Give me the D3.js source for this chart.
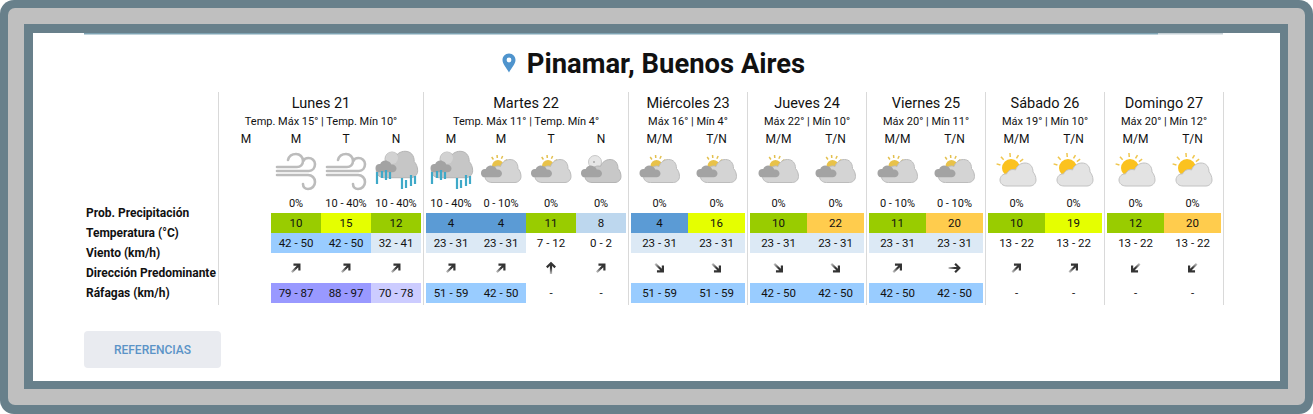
<!DOCTYPE html>
<html>
<head>
<meta charset="utf-8">
<title>Pinamar, Buenos Aires</title>
<script src="https://cdn.jsdelivr.net/npm/d3@7"></script>
<style>
  html, body { margin: 0; padding: 0; background: #fff; overflow: hidden; }
  svg { display: block; }
  text { font-family: Roboto, sans-serif; fill: #111; }
</style>
</head>
<body>
<div id="chart"></div>
<script>
// values, one list per day
var dayNames = ["Lunes 21", "Martes 22", "Miércoles 23", "Jueves 24", "Viernes 25", "Sábado 26", "Domingo 27"];
var daySubtitles = [
  "Temp. Máx 15° | Temp. Mín 10°", "Temp. Máx 11° | Temp. Mín 4°", "Máx 16° | Mín 4°",
  "Máx 22° | Mín 10°", "Máx 20° | Mín 11°", "Máx 19° | Mín 10°", "Máx 20° | Mín 12°"
];
var periods = [
  ["M", "M", "T", "N"], ["M", "M", "T", "N"], ["M/M", "T/N"],
  ["M/M", "T/N"], ["M/M", "T/N"], ["M/M", "T/N"], ["M/M", "T/N"]
];
var icons = [
  [null, "wind", "wind", "rain"], ["rain", "sunDim", "sunDim", "moonDim"], ["sunDim", "sunDim"],
  ["sunDim", "sunDim"], ["sunDim", "sunDim"], ["sunny", "sunny"], ["sunny", "sunny"]
];
var precip = [
  [null, "0%", "10 - 40%", "10 - 40%"], ["10 - 40%", "0 - 10%", "0%", "0%"], ["0%", "0%"],
  ["0%", "0%"], ["0 - 10%", "0 - 10%"], ["0%", "0%"], ["0%", "0%"]
];
var temps = [[null, 10, 15, 12], [4, 4, 11, 8], [4, 16], [10, 22], [11, 20], [10, 19], [12, 20]];
var winds = [
  [null, "42 - 50", "42 - 50", "32 - 41"], ["23 - 31", "23 - 31", "7 - 12", "0 - 2"], ["23 - 31", "23 - 31"],
  ["23 - 31", "23 - 31"], ["23 - 31", "23 - 31"], ["13 - 22", "13 - 22"], ["13 - 22", "13 - 22"]
];
var directions = [
  [null, "NE", "NE", "NE"], ["NE", "NE", "N", "NE"], ["SE", "SE"],
  ["SE", "SE"], ["NE", "E"], ["NE", "NE"], ["SW", "SW"]
];
var gusts = [
  [null, "79 - 87", "88 - 97", "70 - 78"], ["51 - 59", "42 - 50", "-", "-"], ["51 - 59", "51 - 59"],
  ["42 - 50", "42 - 50"], ["42 - 50", "42 - 50"], ["-", "-"], ["-", "-"]
];
var rowLabels = ["Prob. Precipitación", "Temperatura (°C)", "Viento (km/h)", "Dirección Predominante", "Ráfagas (km/h)"];

// layout
var svgWidth = 1313, svgHeight = 414;
var dayEdges = [218.5, 423.5, 628.5, 747.5, 866.5, 985.5, 1104.5, 1223.5];
var teal = "#68808b", frameGray = "#bfbfbf";

var svg = d3.select("#chart").append("svg")
  .attr("width", svgWidth)
  .attr("height", svgHeight);

// fade for the tail of the direction arrows
var grad = svg.append("defs").append("linearGradient")
  .attr("id", "arrowFade")
  .attr("gradientUnits", "userSpaceOnUse")
  .attr("x1", 0).attr("x2", 0).attr("y1", -5).attr("y2", 6);
grad.append("stop").attr("offset", "45%").attr("stop-color", "#333");
grad.append("stop").attr("offset", "100%").attr("stop-color", "#c4c4c4");

// frame around the page
svg.append("rect").attr("width", svgWidth).attr("height", svgHeight).attr("rx", 14).attr("fill", teal);
svg.append("rect").attr("x", 8).attr("y", 8).attr("width", 1297).attr("height", 397).attr("rx", 7).attr("fill", frameGray);
svg.append("rect").attr("x", 24).attr("y", 24).attr("width", 1264).attr("height", 365).attr("fill", teal);
svg.append("rect").attr("x", 33).attr("y", 33).attr("width", 1247).attr("height", 348).attr("fill", "#fff");

// leftover edge of the box above
svg.append("line").attr("x1", 84).attr("x2", 1158).attr("y1", 33.75).attr("y2", 33.75).attr("stroke", "#7ea3b3").attr("stroke-width", 1.5);
svg.append("line").attr("x1", 1158).attr("x2", 1223).attr("y1", 33.75).attr("y2", 33.75).attr("stroke", "#c4cfd5").attr("stroke-width", 1.5);

// title
svg.append("text")
  .attr("x", 666).attr("y", 73)
  .attr("text-anchor", "middle")
  .attr("font-size", 27.4).attr("font-weight", 700)
  .text("Pinamar, Buenos Aires");
svg.append("path")
  .attr("transform", "translate(509,63)")
  .attr("fill-rule", "evenodd")
  .attr("fill", "#4f94cd")
  .attr("d", "M0,-9.5C-3.9,-9.5 -6.5,-6.5 -6.5,-3C-6.5,1 -2.5,5 0,9.5C2.5,5 6.5,1 6.5,-3C6.5,-6.5 3.9,-9.5 0,-9.5ZM0,-5.4A2.4,2.4 0 1 1 0,-0.6A2.4,2.4 0 1 1 0,-5.4Z");

// scales
var rowY = d3.scaleOrdinal()
  .domain(["precip", "temp", "wind", "dir", "gust"])
  .range([193, 213, 233, 253, 283]);
var rowH = d3.scaleOrdinal()
  .domain(["precip", "temp", "wind", "dir", "gust"])
  .range([20, 20, 20, 30, 20]);
var tempColor = d3.scaleThreshold()
  .domain([5, 10, 15, 20])
  .range(["#5b9bd5", "#bdd7ee", "#99cc00", "#e5ff00", "#ffcc4d"]);
var speedColor = d3.scaleThreshold()
  .domain([23, 42, 70, 79])
  .range(["#ffffff", "#dce9f5", "#99ccff", "#ccccff", "#9999ff"]);
var dirAngle = d3.scaleOrdinal()
  .domain(["N", "NE", "E", "SE", "S", "SW", "W", "NW"])
  .range(d3.range(0, 360, 45));

// row labels on the left
var labelY = d3.scalePoint().domain(rowLabels).range([217, 297]);
svg.append("g").selectAll("text")
  .data(rowLabels)
  .enter()
  .append("text")
  .attr("x", 86)
  .attr("y", function(d) { return labelY(d); })
  .attr("font-size", 12)
  .attr("font-weight", 700)
  .text(function(d) { return d; });

// vertical separators
svg.append("g").selectAll("line")
  .data(dayEdges)
  .enter()
  .append("line")
  .attr("x1", function(d) { return d; })
  .attr("x2", function(d) { return d; })
  .attr("y1", 92).attr("y2", 305)
  .attr("stroke", "#d9d9d9");

// weather icons, drawn around the middle of the column
function cloud(g, x, y, s, fill, stroke) {
  g.append("path")
    .attr("transform", "translate(" + x + "," + y + ") scale(" + s + ")")
    .attr("fill", fill)
    .attr("stroke", stroke)
    .attr("stroke-width", 1 / s)
    .attr("d", "M-11,11.5C-15,11.5 -18,9 -18,5.5C-18,2 -15,-1 -11.5,-0.5C-10,-4 -6,-6 -2.5,-4.5C-1,-9 3,-11.5 7,-11.5C12,-11.5 15,-8 15,-2.5C16.5,-1 18,2 18,5.5C18,9 15,11.5 12,11.5Z");
}
function smallCloud(g, x, y, w) {
  var s = w / 22;
  g.append("path")
    .attr("transform", "translate(" + x + "," + y + ") scale(" + s + ")")
    .attr("fill", "#a3a3a3")
    .attr("d", "M-7,6.5C-10,6.5 -11,4 -11,2C-11,-1 -8.5,-2.5 -6,-2C-5,-5.5 -1,-6.5 2,-5C4,-4.5 5,-3 5.5,-1.5C8.5,-2 11,0 11,2.5C11,5 9,6.5 7,6.5Z");
}
function sun(g, x, y, r, fill, rayColor, rayLen, rayAngles) {
  rayAngles.forEach(function(a) {
    var t = a * Math.PI / 180;
    g.append("line")
      .attr("x1", x + Math.cos(t) * (r + 2)).attr("y1", y + Math.sin(t) * (r + 2))
      .attr("x2", x + Math.cos(t) * (r + 2 + rayLen)).attr("y2", y + Math.sin(t) * (r + 2 + rayLen))
      .attr("stroke", rayColor).attr("stroke-width", 1.5);
  });
  g.append("circle").attr("cx", x).attr("cy", y).attr("r", r).attr("fill", fill);
}
var iconDraw = {
  wind: function(g) {
    g.append("path")
      .attr("fill", "none").attr("stroke", "#bcbcbc").attr("stroke-width", 2.6).attr("stroke-linecap", "round")
      .attr("d", "M-19,-4H1C4.5,-4 7,-6.5 7,-10C7,-14 4,-17 0,-17C-4,-17 -7,-15 -8,-11"
        + "M-19,0H13C16.5,0 19,-3 19,-7C19,-10.5 16,-13 12.5,-13C10,-13 8,-12 7.5,-10"
        + "M-19,4H12C16,4 19,7 19,11C19,15 16,18 12,18C9,18 7,16 7,13");
  },
  rain: function(g) {
    g.append("circle").attr("cx", -4).attr("cy", -12).attr("r", 7).attr("fill", "#d6d6d6").attr("stroke", "#bbb");
    cloud(g, 1, -6.5, 1.15, "#c6c6c6", "#b4b4b4");
    g.append("circle").attr("cx", -4).attr("cy", -13).attr("r", 6).attr("fill", "#d2d2d2");
    smallCloud(g, -10, -5, 21);
    [[-19, 1, 12], [-14, 0, 7], [-10, -1, 10], [-6, 1, 7], [6, 7, 11], [10, 9, 8], [15, 4, 11], [19, 5, 8]]
      .forEach(function(b) {
        g.append("rect").attr("x", b[0] - 1.1).attr("y", b[1]).attr("width", 2.2).attr("height", b[2]).attr("fill", "#3fa9c8");
      });
  },
  sunDim: function(g) {
    sun(g, -3, -5, 6, "#e8c24a", "#e3c04e", 3, [-125, -95, -65, -35]);
    cloud(g, 2, 0, 1, "#d4d4d4", "#bcbcbc");
    smallCloud(g, -9.5, 0, 21);
  },
  moonDim: function(g) {
    g.append("circle").attr("cx", -6).attr("cy", -9).attr("r", 6.5).attr("fill", "#e6e6e6").attr("stroke", "#c8c8c8");
    g.append("circle").attr("cx", -7).attr("cy", -9).attr("r", 1).attr("fill", "#aaa");
    cloud(g, 2, 0, 1, "#c8c8c8", "#b4b4b4");
    smallCloud(g, -9.5, 0, 21);
  },
  sunny: function(g) {
    sun(g, -5.5, -3, 9, "#fbc21f", "#efc64c", 4, [-164, -132, -94, -60, -36]);
    cloud(g, 1.5, 3.5, 1, "#e3e3e3", "#c2c2c2");
  }
};

// one group per day, columns from a band scale
dayNames.forEach(function(name, i) {
  var left = dayEdges[i], right = dayEdges[i + 1];
  var x = d3.scaleBand()
    .domain(d3.range(periods[i].length))
    .range([left + 2.5, right - 2.5]);
  var mid = (left + right) / 2;
  var day = svg.append("g");

  day.append("text").attr("x", mid).attr("y", 108)
    .attr("text-anchor", "middle").attr("font-size", 14.5).text(name);
  day.append("text").attr("x", mid).attr("y", 125)
    .attr("text-anchor", "middle").attr("font-size", 11).text(daySubtitles[i]);

  periods[i].forEach(function(p, j) {
    var cx = x(j) + x.bandwidth() / 2;

    day.append("text").attr("x", cx).attr("y", 143)
      .attr("text-anchor", "middle").attr("font-size", 12).text(p);

    if (icons[i][j]) {
      var g = day.append("g").attr("transform", "translate(" + cx + ",171)");
      iconDraw[icons[i][j]](g);
    }
    if (precip[i][j] === null) return;

    day.append("text").attr("x", cx).attr("y", 207)
      .attr("text-anchor", "middle").attr("font-size", 11).text(precip[i][j]);

    // coloured cells
    var cells = [
      { row: "temp", text: temps[i][j], fill: tempColor(temps[i][j]) },
      { row: "wind", text: winds[i][j], fill: speedColor(parseInt(winds[i][j])) },
      { row: "gust", text: gusts[i][j], fill: gusts[i][j] === "-" ? "#fff" : speedColor(parseInt(gusts[i][j])) }
    ];
    cells.forEach(function(c) {
      day.append("rect")
        .attr("x", x(j)).attr("y", rowY(c.row))
        .attr("width", x.bandwidth()).attr("height", rowH(c.row))
        .attr("fill", c.fill);
      day.append("text")
        .attr("x", cx).attr("y", rowY(c.row) + rowH(c.row) / 2 + 4)
        .attr("text-anchor", "middle").attr("font-size", 11.5)
        .text(c.text);
    });

    // wind direction arrow
    day.append("path")
      .attr("transform", "translate(" + cx + ",268) rotate(" + dirAngle(directions[i][j]) + ")")
      .attr("fill", "none").attr("stroke", "url(#arrowFade)").attr("stroke-width", 2.2)
      .attr("d", "M0,6V-4M-4.2,-0.6L0,-4.8L4.2,-0.6");
  });
});

// button under the table
svg.append("rect")
  .attr("x", 84).attr("y", 331).attr("width", 137).attr("height", 37).attr("rx", 4)
  .attr("fill", "#e9ebf0");
svg.append("text")
  .attr("x", 152.5).attr("y", 354)
  .attr("text-anchor", "middle").attr("font-size", 12).attr("font-weight", 500)
  .style("fill", "#5b93c7")
  .text("REFERENCIAS");
</script>
</body>
</html>
